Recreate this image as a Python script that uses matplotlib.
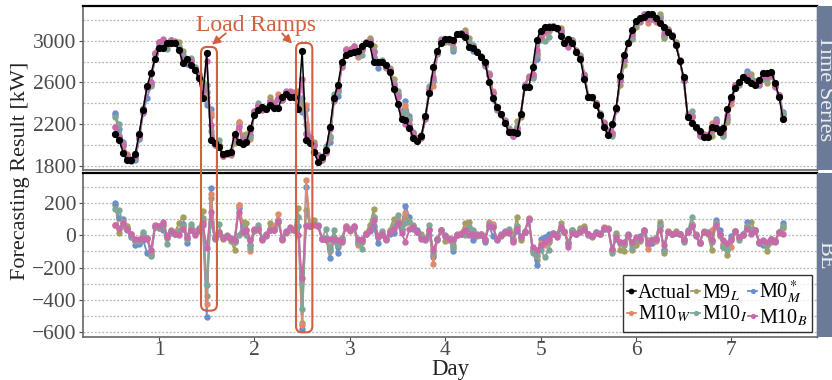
import numpy as np
import matplotlib
matplotlib.use("Agg")
import matplotlib.pyplot as plt
from matplotlib.patches import FancyBboxPatch
from matplotlib.transforms import IdentityTransform

plt.rcParams['font.family'] = ['Liberation Serif', 'DejaVu Serif']
plt.rcParams['mathtext.fontset'] = 'stix'

# ---------------- data ----------------
start_hour = 13  # first sample hour (day = hour / 24)
actual = [
    2105, 2045, 1927, 1860, 1855, 1915, 2110, 2336, 2566, 2693, 2822, 2933, 2933,
    2975, 2978, 2975, 2911, 2789, 2822, 2767, 2720, 2640, 2455, 2885, 2049, 2023,
    1985, 1912, 1927, 1937, 2106, 2033, 2011, 2033, 2161, 2288, 2336, 2368, 2350,
    2384, 2355, 2360, 2458, 2489, 2464, 2464, 2345, 2900, 2049, 2017, 1934, 1841,
    1885, 1955, 2170, 2450, 2580, 2792, 2862, 2882, 2892, 2903, 2952, 2975, 2964,
    2793, 2793, 2792, 2770, 2700, 2534, 2393, 2250, 2240, 2165, 2064, 2040, 2090,
    2282, 2498, 2745, 2903, 2978, 3019, 3015, 3003, 3063, 3060, 3032, 2936, 2927,
    2895, 2840, 2796, 2607, 2448, 2368, 2297, 2214, 2128, 2122, 2112, 2297, 2553,
    2553, 2751, 3006, 3096, 3134, 3128, 3128, 3118, 3045, 2974, 3013, 2974, 2895,
    2821, 2630, 2457, 2464, 2384, 2288, 2170, 2096, 2202, 2352, 2662, 2863, 2981,
    3102, 3192, 3214, 3224, 3255, 3255, 3214, 3166, 3134, 3086, 3045, 2958, 2808,
    2649, 2266, 2214, 2170, 2138, 2080, 2080, 2176, 2160, 2128, 2160, 2342, 2460,
    2550, 2607, 2649, 2623, 2598, 2575, 2623, 2693, 2693, 2703, 2598, 2457, 2246]

# balance errors (forecast - actual) per model
be_m9l = [
    185, 15, 60, 55, 10, -30, -45, 10, -15, -110, 50, 45, 70,
    -15, 30, 20, 75, 115, -10, 50, 15, 25, 150, -375, 230, -10,
    15, -20, 0, -35, -90, 185, 85, 75, -60, 25, 35, -25, 5,
    75, 30, 80, -30, 15, 35, 40, 170, -540, 155, 55, 95, 55,
    -25, -30, -80, -10, -70, -20, 45, 25, 45, -35, -40, 15, 65,
    160, 0, 10, -30, 35, 100, 85, 35, 110, 80, 55, 25, 5,
    -20, 30, -120, -20, 25, -35, -15, -60, 5, 15, 75, 85, 20,
    -5, 10, -20, 70, 55, -20, -5, 15, 25, -20, 115, -30, 25,
    105, -95, -155, -60, -45, -40, 15, 0, 75, 25, -40, 20, 15,
    45, 55, 10, -10, 20, 5, 40, 45, -90, 15, -90, -95, -5,
    -90, -60, -35, 20, -45, -25, -15, 85, -110, 25, 5, 25, 10,
    -25, 30, 60, 5, -40, 25, 10, -90, 60, -5, -55, -120, -25,
    20, -15, 5, 55, 85, 25, -45, -55, -100, -40, -30, 15, 45]
be_m0m = [
    200, 105, 100, 30, -10, -60, -55, -30, -110, -120, 60, 55, 35,
    0, 25, 5, 25, 70, -45, 35, 25, 45, 65, -505, 295, -20,
    10, -10, -10, -15, -30, 170, 50, 30, -60, 35, 45, -15, -5,
    30, 45, 95, -15, 25, 45, 30, 55, -578, 300, 60, 70, 65,
    -15, -15, -143, -30, -108, -30, 60, 40, 50, -45, -25, 5, 25,
    55, -50, 0, -20, 10, 15, 65, 65, 180, 115, 40, 30, -10,
    -30, 0, -135, -30, 35, 0, -20, -100, 0, 5, 30, 40, -30,
    5, 0, -40, 60, -5, -30, 5, 25, 15, -35, 25, -5, 20,
    95, -90, -185, -20, -10, 10, 15, 5, 40, 20, -55, 35, 10,
    25, 35, 0, -5, 20, 15, 40, 40, -90, -20, -40, -50, 10,
    -50, -20, -5, 30, -60, -45, -25, 65, -90, 20, 10, 15, 5,
    -30, 25, 65, -5, -50, 20, 20, -30, 95, 30, -70, -80, -5,
    25, -10, 5, 85, 35, 35, -50, -60, -55, -25, -35, 20, 75]
be_m10w = [
    65, 45, 80, 45, 5, -35, -30, -5, -15, -95, 60, 50, 65,
    -5, 20, 10, 30, 55, -20, 45, 20, 30, 95, -425, 255, -15,
    20, -15, -5, -20, -40, 185, 60, 35, -100, 30, 40, -20, 0,
    35, 55, 130, -25, 20, 40, 30, 110, -555, 340, 65, 70, 60,
    -25, -20, -100, -20, -55, -15, 55, 30, 55, -60, -30, 10, 40,
    110, -10, 5, -25, 20, 55, 95, 40, 140, 85, 50, 20, -5,
    -25, 40, -178, -25, 30, -5, -30, -70, 0, 10, 40, 50, 10,
    0, 10, -30, 80, 68, -25, 0, 20, 20, -25, 55, -10, 20,
    100, -80, -130, -50, -60, -30, 10, 0, 50, 20, -50, 30, 10,
    30, 40, 5, -5, 15, 10, 50, 40, -95, -10, -50, -60, 0,
    -60, -30, -25, 25, -87, -30, -35, 60, -90, 20, 10, 15, 10,
    -30, 20, 70, 0, -45, 20, 15, 35, 75, 10, -60, -90, -70,
    25, -10, 0, 60, 40, 30, -40, -50, -60, -20, -35, 20, 55]
be_m10i = [
    160, 155, 70, 40, -5, -35, -35, 20, -15, -128, 50, 45, 55,
    -55, 15, 5, 25, 55, -20, 70, 15, 30, 105, -308, 85, -15,
    68, -10, -5, -20, -40, 0, 55, 0, -80, 30, 65, -20, 0,
    40, 30, 80, -20, 20, 40, 30, 112, -453, 64, 60, 70, 60,
    -20, 40, -91, 35, -60, -15, 50, 30, 50, -40, -87, 10, 40,
    110, -10, 25, -25, 20, 60, 126, 40, 75, 90, 64, 20, -5,
    -25, 64, -110, -25, 30, -5, -20, -80, 0, 10, 0, 50, 33,
    0, 5, -30, 70, 50, -25, 0, 20, 40, -30, 60, -10, 20,
    100, -112, -122, -91, -137, -91, 10, 0, 50, 20, -50, 30, 10,
    30, 40, 5, -5, 15, 10, 45, 40, -112, 0, -50, -60, 0,
    -80, -30, -25, 25, -30, -30, -20, 60, -90, 20, 10, 15, 10,
    -39, 20, 116, 0, -45, 20, 15, -40, 75, 10, -70, -90, -20,
    25, -30, 0, 60, 40, 30, -40, -50, -60, -20, -35, 20, 55]
be_m10b = [
    65, 37, 75, 40, 5, -20, -25, -15, -20, -90, 64, 55, 79,
    -10, 25, 10, 0, 40, -10, 35, 0, 30, 75, -81, 141, -19,
    20, -15, -5, -20, -30, 141, 23, 30, -30, 37, 40, -29, 0,
    35, 35, 90, -25, 20, 50, 30, 0, -267, 60, 55, 65, 55,
    -20, -20, -20, -20, -30, -40, 50, 30, 58, -20, -30, 10, 30,
    95, -10, 5, -25, 20, 40, 75, 12, -40, 37, 50, 20, -20,
    -25, 30, -91, -25, 30, -5, -20, -20, 0, 10, 30, 0, 10,
    0, 0, -30, 60, 50, -25, 0, 20, 20, -39, 40, -10, 20,
    99, -70, -91, -60, -40, -20, 10, -10, 50, 20, -70, 15, 10,
    20, 40, 5, -5, 15, 10, 43, 40, -87, -10, -40, -40, 0,
    -40, -10, -25, 33, -50, -30, -20, 33, -60, 20, 10, 15, 10,
    -30, 20, 60, 0, -45, 20, 15, -30, 64, 10, -30, -50, -30,
    25, -10, 0, 37, 10, 30, -40, -30, -40, -20, -39, 20, 10]

model_names = [r'M9$_L$', r'M0$^*_M$', r'M10$_W$', r'M10$_I$', r'M10$_B$']
model_be = [be_m9l, be_m0m, be_m10w, be_m10i, be_m10b]
model_colors = ['#a39e62', '#6a8fcb', '#e08a6d', '#7fa797', '#c86aaa']

x_ticks = [1, 2, 3, 4, 5, 6, 7]
top_ticks = [1800, 2200, 2600, 3000]
be_ticks = [200, 0, -200, -400, -600]

# ---------------- figure ----------------
W, H = 832, 380
fig = plt.figure(figsize=(W / 100, H / 100), dpi=100)

def fx(px):
    return px / W

def fy(py):
    return 1 - py / H

L, R = 83, 817
ax1 = fig.add_axes([fx(L), fy(170), fx(R - L), fy(6) - fy(170)])
ax2 = fig.add_axes([fx(L), fy(337), fx(R - L), fy(173) - fy(337)])

act = np.array(actual, dtype=float)
days = (np.arange(len(act)) + start_hour) / 24.0

lw = 1.3
ms = 3.6
handles = []
for name, be, c in zip(model_names, model_be, model_colors):
    fc = act + np.array(be, dtype=float)
    h, = ax1.plot(days, fc, '-o', color=c, lw=lw, ms=ms, label=name, zorder=3)
    ax2.plot(days, be, '-o', color=c, lw=lw, ms=ms, zorder=3)
    handles.append(h)
ha, = ax1.plot(days, act, '-o', color='black', lw=1.1, ms=4.2, label='Actual', zorder=5)

grid_kw = dict(color='#b5b5b5', ls=(0, (1.5, 1.5)), lw=0.9, zorder=0)
for v in range(1800, 3300, 200):
    ax1.axhline(v, **grid_kw)
for v in range(-600, 400, 100):
    ax2.axhline(v, **grid_kw)

ax1.set_xlim(0.203, 7.897)
ax2.set_xlim(0.203, 7.897)
ax1.set_ylim(1762, 3332)
ax2.set_ylim(-629, 385)
ax1.set_yticks(top_ticks)
ax2.set_yticks(be_ticks)
ax1.set_xticks(x_ticks)
ax1.set_xticklabels([])
ax2.set_xticks(x_ticks)
ax2.set_xticklabels([str(t) for t in x_ticks])
ax2.set_yticklabels([str(t).replace('-', '\u2212') for t in be_ticks])

for ax in (ax1, ax2):
    ax.tick_params(axis='both', labelsize=15.5, colors='#4a4a4a', length=3, width=0.8)
    ax.tick_params(axis='x', length=3, pad=0)
    ax.tick_params(axis='y', pad=2)
    for s in ('left', 'bottom'):
        ax.spines[s].set_color('#666666')
        ax.spines[s].set_linewidth(1.2)
    ax.spines['top'].set_color('black')
    ax.spines['top'].set_linewidth(1.6)
    ax.spines['right'].set_color('#333333')
    ax.spines['right'].set_linewidth(1.0)
ax1.tick_params(axis='x', length=0)

# strips
for (top, bot, label) in [(6, 170, 'Time Series'), (173, 337, 'BE')]:
    sax = fig.add_axes([fx(R), fy(bot), fx(40), fy(top) - fy(bot)])
    sax.set_facecolor('#6b7a99')
    sax.set_xticks([])
    sax.set_yticks([])
    for s in sax.spines.values():
        s.set_visible(False)
    fig.text(fx(825), fy((top + bot) / 2), label, rotation=270, ha='center', va='center',
             fontsize=16, color='#eeeeee')

fig.text(fx(21), fy(171), 'Forecasting Result [kW]', rotation=90, ha='center', va='center',
         fontsize=16, color='#222222')
fig.text(fx(450), fy(375), 'Day', ha='center', va='baseline', fontsize=16.5, color='#222222')

# legend
leg_handles = [ha, handles[2], handles[0], handles[3], handles[1], handles[4]]
leg = ax2.legend(leg_handles, [h.get_label() for h in leg_handles], ncol=3, loc='lower right',
                 bbox_to_anchor=(1.0 - 5 / (R - L), 0.03), fontsize=14.5, frameon=True, fancybox=False,
                 handlelength=0.45, handletextpad=0.1, columnspacing=0.0, labelspacing=0.05,
                 borderpad=0.2, borderaxespad=0.0, markerscale=0.75)
leg.get_frame().set_edgecolor('black')
leg.get_frame().set_linewidth(1.0)
leg.set_zorder(10)

# Load ramp annotations
red = '#d0603f'
fig.canvas.draw()

def to_px(ax, x, y):
    return ax.transData.transform((x, y))

for (x0, x1, ytop, ybot) in [(1.44, 1.607, 2940, -466), (2.436, 2.607, 2978, -600)]:
    p0 = to_px(ax1, x0, ytop)
    p1 = to_px(ax2, x1, ybot)
    box = FancyBboxPatch((p0[0], p1[1]), p1[0] - p0[0], p0[1] - p1[1],
                         boxstyle='round,pad=0,rounding_size=6', transform=IdentityTransform(),
                         fill=False, edgecolor=red, lw=1.5, zorder=20)
    fig.add_artist(box)

ax1.text(2.017, 3150, 'Load Ramps', ha='center', va='center', fontsize=17, color=red,
         clip_on=False, zorder=20)
for (xs, ys, xe, ye) in [(1.70, 3070, 1.555, 2962), (2.290, 3070, 2.394, 2972)]:
    ax1.annotate('', xy=(xe, ye), xytext=(xs, ys),
                 arrowprops=dict(arrowstyle='-|>', color=red, lw=1.3, mutation_scale=12,
                                 shrinkA=0, shrinkB=0),
                 annotation_clip=False, zorder=20)

fig.savefig('out.png', dpi=100)
